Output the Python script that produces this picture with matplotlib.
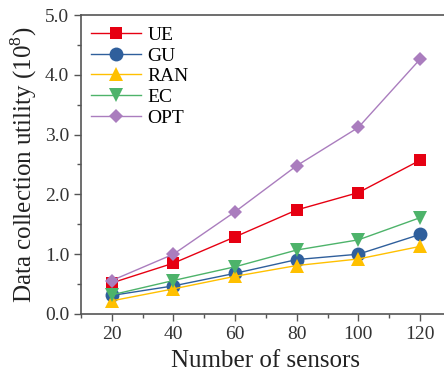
import matplotlib
matplotlib.use("Agg")
import matplotlib.pyplot as plt
from matplotlib.ticker import MultipleLocator, FormatStrFormatter

plt.rcParams['font.family'] = ['Liberation Serif', 'DejaVu Serif']
plt.rcParams['mathtext.fontset'] = 'custom'
plt.rcParams['mathtext.rm'] = 'Liberation Serif'

sensors = [20, 40, 60, 80, 100, 120]
ue = [0.52, 0.85, 1.29, 1.74, 2.03, 2.57]
gu = [0.31, 0.47, 0.68, 0.91, 1.00, 1.33]
ran = [0.22, 0.42, 0.63, 0.81, 0.92, 1.13]
ec = [0.32, 0.56, 0.79, 1.07, 1.24, 1.61]
opt = [0.56, 1.00, 1.71, 2.48, 3.12, 4.26]

series = [
    ("UE", ue, "#E60012", "s", 9),
    ("GU", gu, "#2F5F9C", "o", 10),
    ("RAN", ran, "#FFC000", "^", 10),
    ("EC", ec, "#4DB36A", "v", 10),
    ("OPT", opt, "#AA7DBE", "D", 7),
]

fig = plt.figure(figsize=(4.44, 3.75), dpi=100)
ax = fig.add_axes([0.1824, 0.1627, 0.833, 0.7973])

for name, vals, col, mk, ms in series:
    ax.plot(sensors, vals, color=col, marker=mk, markersize=ms, linewidth=1.0,
            markeredgewidth=0, label=name)

ax.set_xlim(10, 130)
ax.set_ylim(0, 5)
ax.xaxis.set_major_locator(MultipleLocator(20))
ax.xaxis.set_minor_locator(MultipleLocator(10))
ax.yaxis.set_major_locator(MultipleLocator(1))
ax.yaxis.set_minor_locator(MultipleLocator(0.5))
ax.yaxis.set_major_formatter(FormatStrFormatter('%.1f'))

for sp in ax.spines.values():
    sp.set_color("#555555")
    sp.set_linewidth(1.2)
ax.tick_params(which='both', direction='out', colors="#555555", labelcolor="#333333")
ax.tick_params(which='major', length=5, width=1.0, labelsize=14)
ax.tick_params(which='minor', length=3, width=1.0)

ax.set_xlabel("Number of sensors", fontsize=18, color="#222222", labelpad=5)
ax.set_ylabel(r"Data collection utility (10$^{8}$)", fontsize=18, color="#222222", labelpad=4)

leg = ax.legend(loc='upper left', frameon=False, fontsize=14, handlelength=2.6,
                labelspacing=0.16, borderaxespad=0.3, handletextpad=0.3,
                bbox_to_anchor=(-0.01, 1.008))

fig.savefig("out.png", dpi=100)
